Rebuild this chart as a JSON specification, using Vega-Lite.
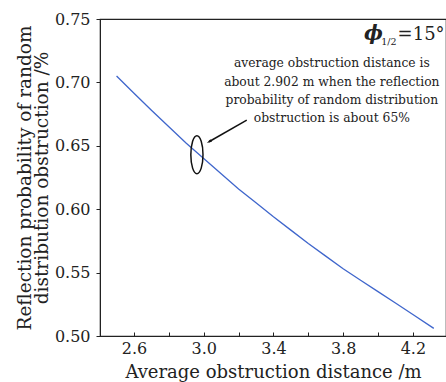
{
  "$schema": "https://vega.github.io/schema/vega-lite/v6.json",
  "width": 346,
  "height": 317,
  "autosize": "none",
  "padding": {"left": 100, "top": 19, "right": 0, "bottom": 46},
  "background": "white",
  "config": {
    "view": {"stroke": "#222", "strokeWidth": 1.2},
    "axis": {
      "grid": false,
      "domainColor": "#222",
      "tickColor": "#222",
      "labelColor": "#222",
      "titleColor": "#222",
      "labelFont": "DejaVu Serif",
      "titleFont": "DejaVu Serif",
      "labelFontSize": 16,
      "titleFontWeight": "normal"
    }
  },
  "layer": [
    {
      "data": {"values": [
        {"d": 2.50, "p": 0.705},
        {"d": 2.60, "p": 0.6915},
        {"d": 2.70, "p": 0.678},
        {"d": 2.80, "p": 0.665},
        {"d": 2.90, "p": 0.652},
        {"d": 3.00, "p": 0.640},
        {"d": 3.10, "p": 0.628},
        {"d": 3.20, "p": 0.616},
        {"d": 3.30, "p": 0.605},
        {"d": 3.40, "p": 0.594},
        {"d": 3.50, "p": 0.5835},
        {"d": 3.60, "p": 0.573},
        {"d": 3.70, "p": 0.563},
        {"d": 3.80, "p": 0.553},
        {"d": 3.90, "p": 0.544},
        {"d": 4.00, "p": 0.535},
        {"d": 4.10, "p": 0.526},
        {"d": 4.20, "p": 0.517},
        {"d": 4.32, "p": 0.506}
      ]},
      "mark": {"type": "line", "color": "#3f66cc", "strokeWidth": 1.3},
      "encoding": {
        "x": {
          "field": "d", "type": "quantitative",
          "scale": {"domain": [2.405, 4.39], "nice": false, "zero": false},
          "axis": {
            "title": "Average obstruction distance /m",
            "titleFontSize": 18,
            "values": [2.6, 2.8, 3.0, 3.2, 3.4, 3.6, 3.8, 4.0, 4.2],
            "format": ".1f",
            "labelExpr": "indexof(['2.6','3.0','3.4','3.8','4.2'], datum.label) >= 0 ? datum.label : ''",
            "tickSize": -4,
            "labelPadding": 8,
            "titlePadding": 7
          }
        },
        "y": {
          "field": "p", "type": "quantitative",
          "scale": {"domain": [0.5, 0.75], "nice": false, "zero": false},
          "axis": {
            "title": ["Reflection probability of random", "distribution obstruction /%"],
            "titleFontSize": 18.5,
            "values": [0.5, 0.55, 0.6, 0.65, 0.7, 0.75],
            "format": ".2f",
            "tickSize": 4,
            "labelPadding": 6,
            "titlePadding": 3,
            "titleLineHeight": 17
          }
        }
      }
    },
    {
      "data": {"values": [{"d": 2.961, "p": 0.643}]},
      "mark": {"type": "point", "shape": "M0,-1 A0.32,1 0 1,0 0,1 A0.32,1 0 1,0 0,-1 Z", "size": 1444, "filled": false, "stroke": "#111", "strokeWidth": 1.5, "opacity": 1},
      "encoding": {"x": {"field": "d", "type": "quantitative"}, "y": {"field": "p", "type": "quantitative"}}
    },
    {
      "data": {"values": [{"d": 3.247, "p": 0.6703, "d2": 3.03, "p2": 0.6532}]},
      "mark": {"type": "rule", "color": "#111", "strokeWidth": 1.5},
      "encoding": {
        "x": {"field": "d", "type": "quantitative"},
        "y": {"field": "p", "type": "quantitative"},
        "x2": {"field": "d2"},
        "y2": {"field": "p2"}
      }
    },
    {
      "data": {"values": [{"d": 3.018, "p": 0.6522}]},
      "mark": {"type": "point", "shape": "M0,0 L-2,-0.6 L-2,0.6 Z", "size": 25, "filled": true, "color": "#111", "opacity": 1, "angle": 150},
      "encoding": {"x": {"field": "d", "type": "quantitative"}, "y": {"field": "p", "type": "quantitative"}}
    },
    {
      "data": {"values": [
        {"d": 3.735, "p": 0.7153, "t": "average obstruction distance is"},
        {"d": 3.735, "p": 0.7003, "t": "about 2.902 m when the reflection"},
        {"d": 3.735, "p": 0.6861, "t": "probability of random distribution"},
        {"d": 3.735, "p": 0.6719, "t": "obstruction is about 65%"}
      ]},
      "mark": {"type": "text", "font": "DejaVu Serif", "fontSize": 12.3, "align": "center", "baseline": "middle", "color": "#222"},
      "encoding": {"x": {"field": "d", "type": "quantitative"}, "y": {"field": "p", "type": "quantitative"}, "text": {"field": "t"}}
    },
    {
      "data": {"values": [{"d": 4.382, "p": 0.7334, "t": "=15°"}]},
      "mark": {"type": "text", "font": "DejaVu Serif", "fontSize": 18, "align": "right", "baseline": "alphabetic", "color": "#222"},
      "encoding": {"x": {"field": "d", "type": "quantitative"}, "y": {"field": "p", "type": "quantitative"}, "text": {"field": "t"}}
    },
    {
      "data": {"values": [{"d": 4.106, "p": 0.7295, "t": "1/2"}]},
      "mark": {"type": "text", "font": "DejaVu Serif", "fontSize": 9.5, "align": "right", "baseline": "alphabetic", "color": "#222"},
      "encoding": {"x": {"field": "d", "type": "quantitative"}, "y": {"field": "p", "type": "quantitative"}, "text": {"field": "t"}}
    },
    {
      "data": {"values": [{"d": 4.028, "p": 0.7334, "t": "ϕ"}]},
      "mark": {"type": "text", "font": "DejaVu Serif", "fontSize": 20, "fontWeight": "bold", "fontStyle": "italic", "align": "right", "baseline": "alphabetic", "color": "#222"},
      "encoding": {"x": {"field": "d", "type": "quantitative"}, "y": {"field": "p", "type": "quantitative"}, "text": {"field": "t"}}
    }
  ]
}
